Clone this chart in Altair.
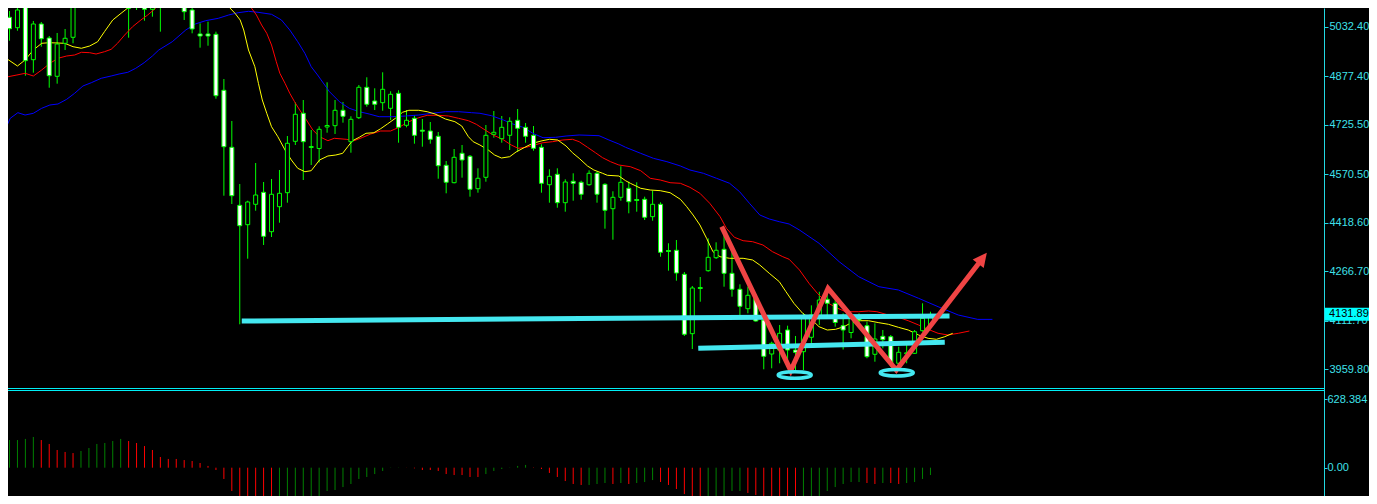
import altair as alt
import pandas as pd

# ---------------- data ----------------
opens = [5061.8, 5029.3, 5097.2, 4929.1, 5040.9, 4997.0, 4877.1, 4980.4, 4999.2, 5111.3,
         5150.0, 5130.0, 5158.0, 5175.0, 5160.0, 5131.7, 5105.7, 5125.4, 5086.9, 5150.0,
         5125.0, 5160.0, 5131.7, 5084.7, 5009.6, 5009.6, 5008.6, 4833.3, 4654.8, 4473.2,
         4412.5, 4476.4, 4513.9, 4390.6, 4468.9, 4512.7, 4673.6, 4761.3, 4654.2, 4651.1,
         4718.4, 4722.5, 4770.7, 4672.4, 4747.5, 4842.7, 4799.8, 4794.5, 4776.9, 4823.9,
         4723.7, 4745.6, 4708.4, 4705.9, 4689.3, 4598.5, 4544.0, 4636.1, 4626.7, 4525.2,
         4560.9, 4695.5, 4681.8, 4692.4, 4739.4, 4717.4, 4692.4, 4654.8, 4537.7, 4570.3,
         4481.4, 4548.4, 4545.3, 4537.7, 4573.4, 4539.0, 4462.6, 4498.3, 4526.5, 4491.4,
         4492.0, 4437.6, 4476.4, 4331.7, 4332.4, 4257.2, 4071.3, 4215.8, 4268.5, 4309.2,
         4335.5, 4260.3, 4210.3, 4149.5, 4182.1, 4114.1, 4007.7, 4020.2, 4082.8, 4020.2,
         4014.9, 4060.0, 4124.5, 4179.0, 4166.4, 4096.3, 4075.0, 4122.6, 4096.3, 4006.8,
         4063.1, 4061.9, 3978.6, 4008.4, 4009.9, 4080.6, 4098.5]
highs = [5081.6, 5125.4, 5103.5, 5050.3, 5047.1, 5003.3, 5012.7, 5025.2, 5109.7, 5147.3,
         5165.0, 5170.0, 5190.0, 5195.0, 5172.0, 5147.3, 5153.6, 5141.0, 5134.8, 5160.0,
         5175.0, 5178.0, 5147.3, 5122.3, 5043.1, 5048.1, 5016.8, 4868.7, 4737.2, 4539.9,
         4487.6, 4605.7, 4546.2, 4555.6, 4583.8, 4690.2, 4795.7, 4802.9, 4709.0, 4720.6,
         4858.3, 4802.9, 4796.7, 4751.9, 4849.9, 4874.0, 4839.6, 4889.6, 4830.2, 4833.3,
         4771.6, 4755.0, 4743.4, 4734.0, 4702.7, 4611.9, 4649.5, 4662.0, 4630.7, 4589.1,
         4724.6, 4768.5, 4752.8, 4748.8, 4774.7, 4730.9, 4721.5, 4664.2, 4586.0, 4589.1,
         4554.6, 4573.4, 4550.3, 4582.8, 4579.7, 4542.1, 4517.1, 4595.3, 4547.1, 4545.3,
         4500.2, 4519.0, 4482.6, 4354.3, 4364.6, 4264.4, 4220.6, 4248.8, 4369.9, 4357.4,
         4385.6, 4331.1, 4225.9, 4218.4, 4195.5, 4119.5, 4046.2, 4098.5, 4096.3, 4064.1,
         4136.1, 4160.0, 4202.7, 4213.4, 4182.1, 4135.1, 4135.1, 4135.1, 4108.8, 4103.8,
         4082.8, 4067.2, 4030.5, 4035.9, 4082.8, 4166.4, 4140.1]
lows = [4988.6, 5019.9, 4879.0, 4888.4, 4969.8, 4841.4, 4854.0, 4959.5, 4980.4, 5103.5,
        5095.0, 5122.0, 5145.0, 5150.0, 5125.0, 4998.0, 5084.7, 5051.2, 5063.7, 5016.8,
        5118.0, 5125.0, 5053.4, 5011.7, 4966.7, 4972.9, 4807.0, 4503.3, 4477.3, 4100.7,
        4306.1, 4456.3, 4349.0, 4374.0, 4418.8, 4481.4, 4662.0, 4552.5, 4599.4, 4607.2,
        4700.5, 4696.5, 4731.9, 4637.9, 4743.4, 4781.9, 4771.6, 4769.4, 4740.3, 4669.2,
        4717.4, 4666.1, 4656.7, 4666.1, 4556.5, 4510.8, 4542.1, 4559.7, 4500.2, 4512.7,
        4547.1, 4684.9, 4669.2, 4646.4, 4641.1, 4669.2, 4644.2, 4512.7, 4481.4, 4465.7,
        4453.2, 4487.6, 4490.8, 4534.6, 4481.4, 4400.0, 4365.5, 4487.6, 4448.2, 4453.2,
        4427.2, 4425.0, 4312.3, 4268.5, 4237.2, 4064.1, 4023.3, 4171.4, 4265.4, 4305.1,
        4218.4, 4187.1, 4129.8, 4135.1, 4108.8, 3959.8, 3962.9, 3978.6, 3978.6, 3957.6,
        3957.6, 4030.0, 4098.5, 4129.8, 4093.2, 4021.8, 4056.8, 4098.5, 3994.2, 3983.6,
        4025.5, 3967.9, 3957.6, 3978.6, 4007.7, 4077.5, 4093.2]
closes = [5026.1, 5084.7, 4926.0, 5040.9, 4994.8, 4879.0, 4978.2, 4996.1, 5102.5, 5131.7,
          5128.0, 5158.0, 5175.0, 5160.0, 5140.0, 5090.0, 5134.8, 5086.9, 5122.3, 5125.0,
          5160.0, 5140.0, 5079.4, 5025.2, 5003.3, 5003.3, 4816.4, 4656.7, 4503.3, 4409.4,
          4483.6, 4505.5, 4376.2, 4507.7, 4510.8, 4667.4, 4758.2, 4672.4, 4657.3, 4711.2,
          4723.1, 4770.7, 4751.9, 4742.5, 4842.7, 4789.5, 4789.5, 4836.4, 4820.8, 4717.4,
          4739.4, 4692.4, 4705.3, 4679.9, 4597.2, 4545.3, 4623.5, 4615.1, 4523.3, 4557.8,
          4692.4, 4701.8, 4717.4, 4736.2, 4714.3, 4689.3, 4651.7, 4542.1, 4564.0, 4481.4,
          4546.2, 4542.1, 4507.7, 4573.4, 4507.7, 4457.6, 4498.3, 4545.3, 4484.5, 4488.3,
          4435.7, 4476.4, 4326.1, 4328.6, 4261.3, 4069.4, 4214.3, 4212.7, 4310.4, 4332.4,
          4260.3, 4210.3, 4157.0, 4191.5, 4111.0, 4000.5, 4041.2, 4072.5, 4020.2, 4013.0,
          4122.6, 4130.0, 4176.8, 4166.4, 4106.3, 4082.8, 4119.5, 4114.1, 3999.3, 4054.7,
          4052.5, 3978.6, 4013.0, 4011.4, 4077.5, 4119.5, 4131.89]

# Alligator-style moving averages: (bar index, price)
jaw = [(-0.54, 4711.2), (0.09, 4745.6), (1.05, 4763.2), (1.96, 4755.9), (3.0, 4761.3), (4.05, 4776.9),
       (5.09, 4787.3), (6.1, 4790.4), (7.2, 4805.1), (8.2, 4823.9), (9.25, 4846.8), (10.3, 4857.1),
       (11.55, 4870.9), (12.8, 4878.1), (13.8, 4884.3), (14.9, 4889.6), (15.9, 4902.2), (16.96, 4919.7),
       (18.0, 4940.7), (18.8, 4959.5), (20.5, 4985.4), (22.2, 5022.1), (23.4, 5040.9), (24.7, 5051.2),
       (26.3, 5058.7), (27.6, 5069.0), (28.8, 5076.2), (30.1, 5080.6), (31.3, 5077.5), (33.0, 5071.2),
       (34.25, 5053.4), (35.3, 5022.1), (36.3, 4985.4), (37.2, 4949.1), (38.0, 4907.2), (38.8, 4881.2),
       (40.3, 4828.9), (41.55, 4797.6), (42.8, 4776.9), (44.05, 4766.3), (45.3, 4759.1), (46.55, 4750.6),
       (48.2, 4750.6), (49.9, 4752.8), (51.55, 4755.9), (53.2, 4761.3), (54.9, 4766.3), (56.55, 4766.3),
       (58.2, 4763.2), (59.25, 4761.3), (60.7, 4753.8), (62.2, 4740.3), (63.4, 4727.8), (64.7, 4717.4),
       (65.9, 4698.7), (67.2, 4684.9), (68.8, 4686.1), (70.1, 4690.2), (71.75, 4693.3), (74.25, 4691.2),
       (75.5, 4677.7), (76.75, 4665.2), (77.6, 4654.8), (79.5, 4636.0), (81.1, 4620.4), (82.8, 4609.8),
       (84.5, 4596.3), (85.7, 4583.8), (87.4, 4573.4), (89.05, 4557.8), (90.7, 4542.1), (91.96, 4515.8),
       (93.2, 4479.5), (94.5, 4442.9), (95.7, 4430.4), (96.96, 4421.9), (98.2, 4414.7), (99.5, 4395.9),
       (101.96, 4354.3), (104.5, 4296.7), (106.96, 4249.7), (109.5, 4218.4), (111.96, 4208.1),
       (114.5, 4182.1), (116.96, 4155.8), (119.5, 4129.8), (121.96, 4116.1), (123.8, 4116.1)]
teeth = [(-0.54, 4874.0), (0.93, 4881.2), (1.96, 4886.5), (3.0, 4878.1), (4.05, 4896.8), (5.09, 4917.8),
         (6.1, 4933.5), (7.2, 4940.7), (8.2, 4943.8), (9.05, 4952.3), (10.1, 4951.0), (10.9, 4946.9),
         (11.96, 4954.1), (12.8, 4961.6), (13.6, 4980.4), (14.5, 5006.4), (15.5, 5032.4), (16.55, 5053.4),
         (17.4, 5069.0), (18.4, 5090.0), (19.5, 5116.0), (22.0, 5150.0), (25.0, 5160.0), (28.6, 5116.0),
         (29.7, 5103.5), (30.5, 5090.0), (31.1, 5069.0), (31.75, 5037.7), (32.4, 5011.7), (33.0, 4975.1),
         (33.6, 4922.8), (34.05, 4886.5), (34.7, 4855.2), (35.3, 4823.9), (35.9, 4797.6), (36.55, 4771.6),
         (37.4, 4740.3), (38.2, 4709.0), (39.05, 4688.0), (40.1, 4675.5), (40.9, 4683.0), (42.4, 4679.9),
         (43.4, 4675.5), (44.5, 4686.1), (45.5, 4696.5), (46.75, 4705.9), (48.0, 4705.9), (49.05, 4717.4),
         (50.3, 4735.0), (51.55, 4747.5), (52.6, 4755.0), (54.05, 4755.0), (55.3, 4752.8), (56.55, 4745.6),
         (57.8, 4738.1), (58.8, 4726.8), (59.9, 4709.0), (60.9, 4693.3), (62.1, 4679.9), (63.2, 4662.0),
         (64.05, 4651.7), (65.1, 4654.8), (66.1, 4662.0), (67.2, 4669.2), (68.4, 4672.4), (69.7, 4677.7),
         (70.9, 4679.9), (71.75, 4672.4), (72.8, 4654.8), (73.8, 4637.9), (74.7, 4622.3), (75.7, 4609.8),
         (76.75, 4599.4), (78.2, 4594.1), (79.5, 4581.6), (80.7, 4557.8), (81.96, 4552.5), (83.2, 4544.0),
         (84.5, 4542.1), (85.7, 4529.6), (86.96, 4510.8), (88.2, 4479.5), (89.5, 4437.6), (90.3, 4401.2),
         (91.3, 4373.1), (92.4, 4362.4), (93.6, 4359.3), (94.9, 4348.9), (96.1, 4328.0), (97.4, 4312.3),
         (98.2, 4304.2), (99.5, 4270.7), (100.7, 4229.0), (101.75, 4197.7), (102.8, 4171.5),
         (104.05, 4153.9), (105.3, 4140.1), (106.96, 4140.1), (108.2, 4142.3), (109.25, 4140.1),
         (110.7, 4129.8), (111.96, 4122.6), (113.2, 4111.9), (114.5, 4098.5), (115.7, 4085.0),
         (116.96, 4072.5), (118.2, 4067.2), (119.5, 4072.5), (120.9, 4079.7)]
lips = [(-0.54, 4935.4), (1.0, 4909.4), (1.96, 4928.2), (3.0, 4959.5), (4.05, 4980.4), (5.0, 4982.3),
        (6.96, 4980.4), (8.0, 4969.8), (9.05, 4964.8), (10.1, 4972.0), (11.1, 4985.4), (11.96, 5016.8),
        (13.0, 5053.4), (14.05, 5074.4), (15.1, 5095.0), (15.9, 5113.8), (18.0, 5145.0), (21.0, 5155.0),
        (24.0, 5148.0), (26.75, 5116.0), (27.2, 5105.7), (28.4, 5074.4), (29.05, 5053.4), (29.5, 5022.1),
        (30.1, 4959.5), (30.9, 4907.2), (31.35, 4855.2), (31.84, 4802.9), (32.4, 4761.3), (33.0, 4719.3),
        (33.8, 4688.0), (34.7, 4646.4), (35.5, 4615.1), (36.3, 4589.1), (37.2, 4578.4), (38.0, 4581.6),
        (39.05, 4615.1), (40.1, 4627.6), (41.1, 4630.7), (41.96, 4636.0), (42.6, 4656.7), (43.2, 4675.5),
        (44.05, 4686.1), (44.9, 4698.7), (45.9, 4700.5), (46.75, 4713.1), (47.6, 4727.8), (48.6, 4745.6),
        (49.5, 4764.4), (50.3, 4770.7), (51.55, 4770.7), (52.6, 4766.3), (53.6, 4759.1), (54.9, 4743.4),
        (56.1, 4735.0), (56.96, 4721.5), (57.8, 4688.0), (58.4, 4672.4), (59.25, 4662.0), (60.3, 4646.4),
        (61.1, 4630.7), (61.96, 4621.3), (63.0, 4625.4), (63.8, 4640.1), (64.9, 4654.8), (65.9, 4667.4),
        (66.96, 4674.6), (68.0, 4679.9), (69.05, 4677.7), (70.1, 4658.9), (70.9, 4637.9), (71.75, 4620.4),
        (72.8, 4596.3), (73.6, 4583.8), (74.7, 4573.4), (75.3, 4567.2), (76.75, 4565.0), (77.6, 4550.3),
        (78.2, 4542.1), (79.5, 4526.5), (80.7, 4521.1), (81.96, 4519.0), (83.2, 4512.7), (84.5, 4492.0),
        (85.3, 4468.9), (86.1, 4442.9), (86.96, 4411.6), (87.8, 4369.9), (88.6, 4328.0), (89.5, 4312.3),
        (90.7, 4307.3), (92.4, 4307.3), (93.6, 4302.0), (94.5, 4286.3), (95.7, 4260.3), (96.96, 4234.1),
        (97.8, 4202.7), (98.8, 4166.4), (99.9, 4135.1), (101.1, 4114.1), (101.96, 4093.2), (103.0, 4082.8),
        (104.05, 4085.0), (105.1, 4093.2), (105.9, 4103.8), (106.96, 4111.9), (108.2, 4111.9),
        (109.5, 4105.7), (110.7, 4100.7), (111.96, 4091.3), (113.2, 4082.8), (114.5, 4067.2),
        (115.7, 4056.8), (116.75, 4053.7), (117.8, 4061.9), (118.8, 4072.5)]

# oscillator histogram (one value per bar) and its bar colour flags (G rising / R falling)
osc = [253, 253, 263, 281, 253, 217, 162, 144, 134, 153,
       180, 217, 226, 244, 263, 244, 226, 198, 162, 98,
       80, 80, 70, 61, 43, 16, -21, -103, -213, -348,
       -384, -412, -430, -439, -421, -402, -375, -338, -305, -259,
       -213, -204, -177, -149, -103, -85, -58, -30, -2, 2,
       1, -6, -21, -21, -30, -58, -67, -67, -85, -85,
       -58, -30, -12, 2, 16, 25, -3, -12, -48, -85,
       -122, -149, -158, -158, -149, -140, -149, -140, -149, -140,
       -131, -113, -131, -158, -195, -241, -295, -323, -314, -295,
       -259, -213, -213, -231, -250, -286, -323, -338, -348, -357,
       -348, -295, -259, -213, -177, -149, -131, -131, -140, -149,
       -140, -140, -149, -140, -131, -103, -67]
osc_flags = list("GGGG" "RRRRR" "GGGGGG" "RRRRRRRRRRRRRRRRRRR" "GGGGGGGGGGGGGG" "GGR"
                 "RRRRRRRRR" "GGGGGG" "RRRRRRR" "GGG" "R" "G" "R" "GGG" "RRRRRR" "GGGGG"
                 "RRRRRRR" "GGGGGGGG" "RR" "G" "RR" "GGGG")

price_ticks = [5032.40, 4877.40, 4725.50, 4570.50, 4418.60, 4266.70, 4111.70, 3959.80]
osc_ticks = [628.384, 0.0]

# hand-drawn annotations (bar index, price)
neck_upper = [(29.25, 4111.0), (118.4, 4126.7)]
neck_lower = [(86.75, 4025.5), (117.8, 4044.3)]
zigzag = [(89.7, 4406.3), (98.4, 3955.4), (103.1, 4213.4), (111.7, 3957.6), (122.5, 4305.1)]
arrow_tip = [(123.1, 4324.9)]
rings = [(98.9, 3942.0), (111.75, 3949.2)]

# ---------------- layout ----------------
W, H = 1316, 488
BAR_PX = 8.0
X_DOMAIN = [0.4375, 0.4375 + W / BAR_PX]
pp = (5032.40 - 3959.80) / (369.3 - 26.7)
PRICE_DOMAIN = [5032.40 - (496 - 26.7) * pp, 5032.40 + (26.7 - 8) * pp]
ip = 628.384 / (467.7 - 399.0)
OSC_DOMAIN = [-(496 - 467.7) * ip, (467.7 - 8) * ip]

BG = "#000000"
CANDLE = "#00ff00"
CYAN_TXT = "#3fe0ea"
CYAN_AX = "#22d8e2"
ANN_CYAN = "#44e8f0"
ANN_RED = "#f04444"
OSC_UP = "#008000"
OSC_DN = "#ff0000"
FONT = "Liberation Sans"

xs = alt.Scale(domain=X_DOMAIN, nice=False, zero=False)
ps = alt.Scale(domain=PRICE_DOMAIN, nice=False, zero=False)
os_ = alt.Scale(domain=OSC_DOMAIN, nice=False, zero=False)

price_axis = alt.Axis(orient="right", values=price_ticks, format=".2f", title=None, grid=False,
                      domain=True, domainColor=CYAN_AX, domainWidth=1, ticks=True, tickColor=CYAN_AX,
                      tickSize=4, labelPadding=1, labelColor=CYAN_TXT, labelFont=FONT,
                      labelFontSize=11, labelOverlap=False)
osc_axis = alt.Axis(orient="right", values=osc_ticks, title=None, grid=False, domain=False,
                    labelExpr="datum.value == 0 ? '0.00' : format(datum.value, '.3f')",
                    tickColor=CYAN_AX, tickSize=3, labelPadding=0, labelColor=CYAN_TXT,
                    labelFont=FONT, labelFontSize=11, labelOverlap=False)

X = alt.X("i:Q", scale=xs, axis=None)

df = pd.DataFrame({"i": list(range(len(opens))), "open": opens, "high": highs,
                   "low": lows, "close": closes})
df["body"] = ["#000000" if c >= o else "#ffffff" for o, c in zip(opens, closes)]

wicks = alt.Chart(df).mark_rule(color=CANDLE, strokeWidth=1, clip=True).encode(
    x=X, y=alt.Y("low:Q", scale=ps, axis=price_axis), y2="high:Q")
bodies = alt.Chart(df).mark_bar(size=4, stroke=CANDLE, strokeWidth=1, clip=True).encode(
    x=X, y=alt.Y("open:Q", scale=ps, axis=None), y2="close:Q",
    fill=alt.Fill("body:N", scale=None))


def poly(points, color, width, cap="butt"):
    d = pd.DataFrame(points, columns=["i", "v"])
    return alt.Chart(d).mark_line(color=color, strokeWidth=width, strokeCap=cap,
                                  strokeJoin="miter", clip=True).encode(
        x=X, y=alt.Y("v:Q", scale=ps, axis=None))


ma_jaw = poly(jaw, "#0000ff", 1)
ma_teeth = poly(teeth, "#ff0000", 1)
ma_lips = poly(lips, "#ffff00", 1)

up_line = poly(neck_upper, ANN_CYAN, 5)
lo_line = poly(neck_lower, ANN_CYAN, 5)
zz = poly(zigzag, ANN_RED, 5)

arrow = alt.Chart(pd.DataFrame(arrow_tip, columns=["i", "v"])).mark_point(
    shape="M0,0L1,2L-1,2Z", size=196, filled=True, fill=ANN_RED, strokeWidth=0,
    opacity=1, angle=38).encode(x=X, y=alt.Y("v:Q", scale=ps, axis=None))

ring = alt.Chart(pd.DataFrame(rings, columns=["i", "v"])).mark_point(
    shape="M-1,0A1,0.2,0,1,1,1,0A1,0.2,0,1,1,-1,0Z", size=1089, filled=False,
    stroke=ANN_CYAN, strokeWidth=3.5, opacity=1).encode(
    x=X, y=alt.Y("v:Q", scale=ps, axis=None))

tag_df = pd.DataFrame({"v": [closes[-1]], "t": [f"{closes[-1]:.2f}"]})
tag_bg = alt.Chart(tag_df).mark_rule(color="#00ffff", strokeWidth=13, strokeCap="butt").encode(
    x=alt.value(W + 1), x2=alt.value(W + 50), y=alt.Y("v:Q", scale=ps, axis=None))
tag_txt = alt.Chart(tag_df).mark_text(align="left", baseline="middle", color="#000000",
                                      font=FONT, fontSize=11).encode(
    x=alt.value(W + 5), y=alt.Y("v:Q", scale=ps, axis=None), text="t:N")

odf = pd.DataFrame({"i": list(range(len(osc))), "v": osc,
                    "c": [OSC_UP if f == "G" else OSC_DN for f in osc_flags]})
oscillator = alt.Chart(odf).mark_rule(strokeWidth=1, clip=True).encode(
    x=X, y=alt.Y("v:Q", scale=os_, axis=osc_axis), y2=alt.datum(0),
    color=alt.Color("c:N", scale=None))

sep1 = alt.Chart(pd.DataFrame({"k": [0]})).mark_rule(color="#00eef5", strokeWidth=1).encode(
    x=alt.value(0), x2=alt.value(W), y=alt.value(380.5))
sep2 = alt.Chart(pd.DataFrame({"k": [0]})).mark_rule(color="#00eef5", strokeWidth=1).encode(
    x=alt.value(0), x2=alt.value(W), y=alt.value(382.5))

chart = alt.layer(
    wicks, oscillator, ma_jaw, ma_teeth, ma_lips, bodies, up_line, lo_line, zz, arrow, ring,
    tag_bg, tag_txt, sep1, sep2,
).resolve_scale(y="independent").properties(
    width=W, height=H,
    autosize=alt.AutoSizeParams(type="none"),
    padding={"left": 0, "right": 45, "top": 0, "bottom": 0},
    background=BG,
).configure_view(strokeWidth=0)

chart.save("out.html", embed_options={"renderer": "svg", "actions": False})
